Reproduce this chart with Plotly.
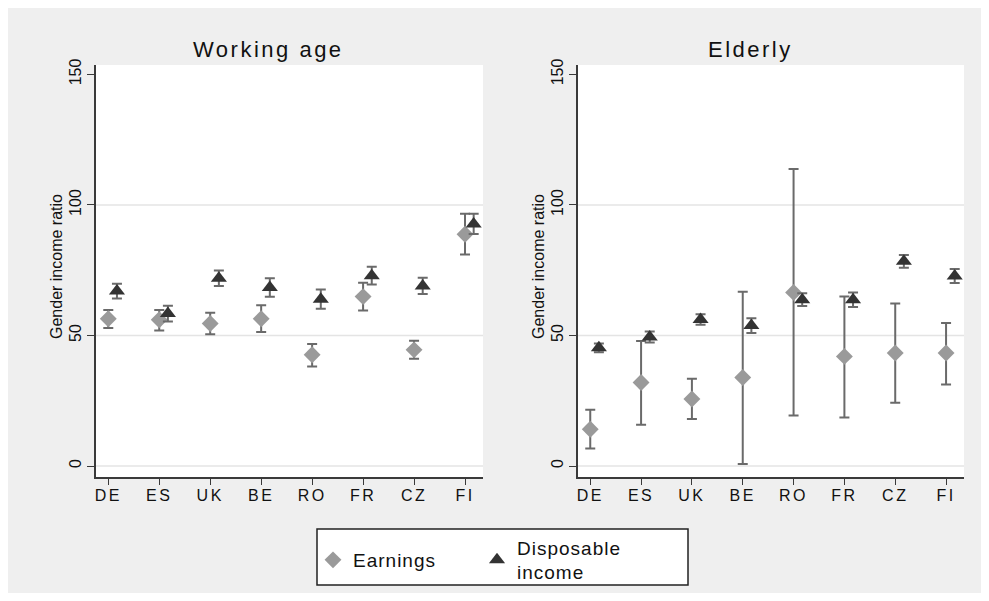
import plotly.graph_objects as go

# ---------------- data ----------------
countries = ["DE", "ES", "UK", "BE", "RO", "FR", "CZ", "FI"]
positions = [1, 2, 3, 4, 5, 6, 7, 8]

work_earn = [56.4, 56.0, 54.6, 56.4, 42.6, 64.9, 44.5, 88.8]
work_earn_hi = [59.8, 59.8, 58.7, 61.6, 46.7, 70.2, 48.0, 96.6]
work_earn_lo = [52.9, 51.9, 50.5, 51.3, 38.1, 59.6, 41.1, 81.0]
work_disp = [67.0, 58.4, 71.9, 68.4, 63.9, 72.9, 69.0, 92.7]
work_disp_hi = [69.8, 61.4, 74.9, 71.9, 67.6, 76.3, 72.1, 96.6]
work_disp_lo = [64.2, 55.4, 69.0, 64.8, 60.2, 69.5, 65.9, 88.9]

old_earn = [14.1, 32.0, 25.7, 33.9, 66.5, 42.0, 43.3, 43.3]
old_earn_hi = [21.6, 47.9, 33.4, 66.8, 113.8, 64.9, 62.3, 54.8]
old_earn_lo = [6.7, 15.8, 18.0, 0.8, 19.4, 18.6, 24.2, 31.2]
old_disp = [45.3, 49.4, 56.1, 53.8, 63.7, 63.7, 78.4, 72.8]
old_disp_hi = [46.9, 51.5, 58.1, 56.6, 66.2, 66.5, 80.8, 75.5]
old_disp_lo = [43.6, 47.3, 54.1, 51.0, 61.3, 60.9, 75.9, 70.1]

y_ticks = [0, 50, 100, 150]
grid_vals = [0, 50, 100]
panel_titles = ["Working age", "Elderly"]
y_title = "Gender income ratio"
series_names = ["Earnings", "Disposable<br>income"]
disp_offset = 0.17

# ---------------- styling ----------------
W, H = 973, 585
FONT = "Liberation Sans, Arial, sans-serif"
EARN_COL = "#9a9a9a"
DISP_COL = "#333333"
ERR_COL = "#6a6a6a"
AXIS_COL = "#3a3a3a"
TXT = "#111111"
BG = "#efefef"


def px_x(p):
    return p / W


def px_y(p):
    return 1 - p / H


def spaced(t, sp):
    return f"<span style='letter-spacing:{sp}px'>{t}</span>"


def err(vals, hi, lo):
    return dict(type="data", symmetric=False,
                array=[h - v for v, h in zip(vals, hi)],
                arrayminus=[v - l for v, l in zip(vals, lo)],
                color=ERR_COL, thickness=2, width=5)


fig = go.Figure()

panels = [
    (work_earn, work_earn_hi, work_earn_lo, work_disp, work_disp_hi, work_disp_lo, "x", "y"),
    (old_earn, old_earn_hi, old_earn_lo, old_disp, old_disp_hi, old_disp_lo, "x2", "y2"),
]
for i, (e, ehi, elo, d, dhi, dlo, xa, ya) in enumerate(panels):
    fig.add_trace(go.Scatter(
        x=positions, y=e, mode="markers", name=spaced(series_names[0], 1),
        marker=dict(symbol="diamond", size=13, color=EARN_COL),
        error_y=err(e, ehi, elo), xaxis=xa, yaxis=ya,
        showlegend=(i == 0), legend="legend"))
    fig.add_trace(go.Scatter(
        x=[p + disp_offset for p in positions], y=d, mode="markers",
        name=spaced(series_names[1], 1),
        marker=dict(symbol="triangle-up", size=14, color=DISP_COL),
        error_y=err(d, dhi, dlo), xaxis=xa, yaxis=ya,
        showlegend=(i == 0), legend="legend2"))

x_range = [0.759, 8.353]
y_range = [-4.2, 153.6]
y_dom = [px_y(469), px_y(57)]

common_x = dict(range=x_range, tickmode="array", tickvals=positions,
                ticktext=[spaced(c, 2.5) for c in countries],
                showgrid=False, zeroline=False, showline=True, linecolor=AXIS_COL,
                linewidth=1.5, ticks="outside", ticklen=6, tickcolor=AXIS_COL,
                ticklabelstandoff=-3,
                tickfont=dict(family=FONT, size=16, color=TXT))
common_y = dict(range=y_range, tickmode="array", tickvals=y_ticks,
                showgrid=False, zeroline=False, showline=True, linecolor=AXIS_COL,
                linewidth=1.5, ticks="outside", ticklen=7, tickcolor=AXIS_COL,
                tickangle=-90, domain=y_dom,
                tickfont=dict(family=FONT, size=16, color=TXT))

legend_common = dict(orientation="h", yanchor="middle", xanchor="left",
                     bgcolor="rgba(0,0,0,0)", borderwidth=0,
                     font=dict(family=FONT, size=19, color=TXT))

fig.update_layout(
    width=W, height=H,
    margin=dict(l=0, r=0, t=0, b=0, autoexpand=False),
    paper_bgcolor=BG, plot_bgcolor="white",
    font=dict(family=FONT, color=TXT),
    xaxis=dict(common_x, domain=[px_x(88), px_x(475)], anchor="y"),
    yaxis=dict(common_y, anchor="x"),
    xaxis2=dict(common_x, domain=[px_x(570), px_x(956)], anchor="y2"),
    yaxis2=dict(common_y, anchor="x2"),
    legend=dict(legend_common, x=px_x(305), y=px_y(552)),
    legend2=dict(legend_common, x=px_x(469), y=px_y(552)),
)

# gridlines
for xa, ya in [("x", "y"), ("x2", "y2")]:
    for g in grid_vals:
        fig.add_shape(type="line", xref=f"{xa} domain", yref=ya, x0=0, x1=1, y0=g, y1=g,
                      line=dict(color="#e4e4e4", width=1.5), layer="below")

# legend frame
fig.add_shape(type="rect", xref="paper", yref="paper",
              x0=px_x(309), x1=px_x(680), y0=px_y(577), y1=px_y(521),
              line=dict(color="#222222", width=1.5), fillcolor="white", layer="below")

# panel titles and y titles
for title, cx, ty in zip(panel_titles, [260.5, 742.5], [48, 530]):
    fig.add_annotation(text=spaced(title, 2.5), x=px_x(cx), y=px_y(42),
                       xref="paper", yref="paper",
                       showarrow=False, xanchor="center", yanchor="middle",
                       font=dict(family=FONT, size=22, color=TXT))
    fig.add_annotation(text=y_title, x=px_x(ty), y=px_y(259), xref="paper", yref="paper",
                       showarrow=False, textangle=-90, xanchor="center", yanchor="middle",
                       font=dict(family=FONT, size=16, color=TXT))

fig.write_html("out.html")
